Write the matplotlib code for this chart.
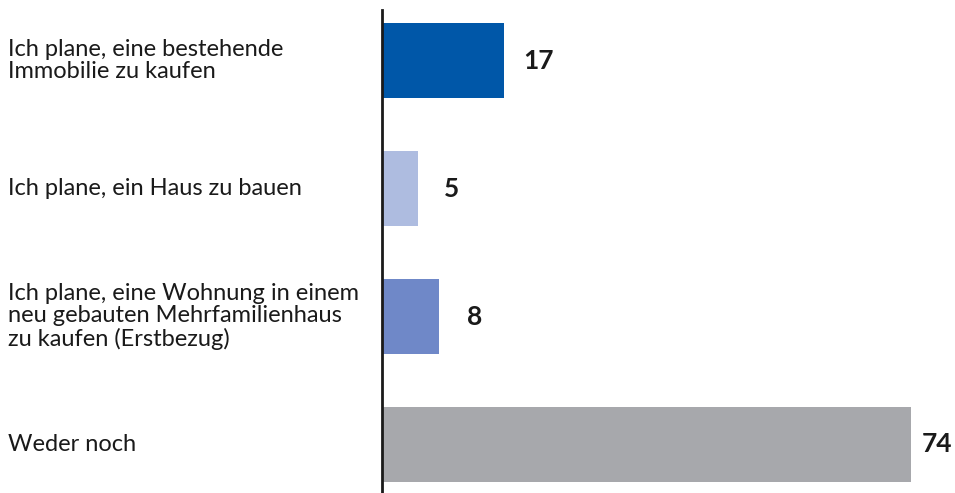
import matplotlib
matplotlib.use("Agg")
import matplotlib.pyplot as plt
import numpy as np

labels = [
    "Ich plane, eine bestehende\nImmobilie zu kaufen",
    "Ich plane, ein Haus zu bauen",
    "Ich plane, eine Wohnung in einem\nneu gebauten Mehrfamilienhaus\nzu kaufen (Erstbezug)",
    "Weder noch",
]
values = [17, 5, 8, 74]
colors = ["#0057A8", "#AEBCE0", "#6F88C8", "#A7A8AC"]
label_pad = [20, 26, 28, 10]  # pixels right of bar end

plt.rcParams["font.family"] = ["Lato", "DejaVu Sans"]

fig = plt.figure(figsize=(9.55, 4.93), dpi=100)
ax = fig.add_axes([382 / 955, 0, 1 - 382 / 955, 1 - 10 / 493])

y = np.arange(len(values))
ax.barh(y, values, height=0.586, color=colors)

ax.set_xlim(0, 80.1)
ax.set_ylim(3.379, -0.395)

for s in ["top", "right", "bottom"]:
    ax.spines[s].set_visible(False)
ax.spines["left"].set_linewidth(2)
ax.spines["left"].set_color("#1a1a1a")
ax.set_xticks([])
ax.set_yticks([])

for yi, v, p in zip(y, values, label_pad):
    ax.annotate(str(v), (v, yi), xytext=(p * 0.72, 0), textcoords="offset points",
                va="center", ha="left", fontsize=19, fontweight="bold", color="#1a1a1a")

for yi, lab in zip(y, labels):
    ax.text(8, yi, lab, transform=matplotlib.transforms.blended_transform_factory(
        matplotlib.transforms.IdentityTransform(), ax.transData),
        va="center", ha="left", fontsize=17, color="#1a1a1a", linespacing=1.1)

fig.savefig("out.png", dpi=100)
